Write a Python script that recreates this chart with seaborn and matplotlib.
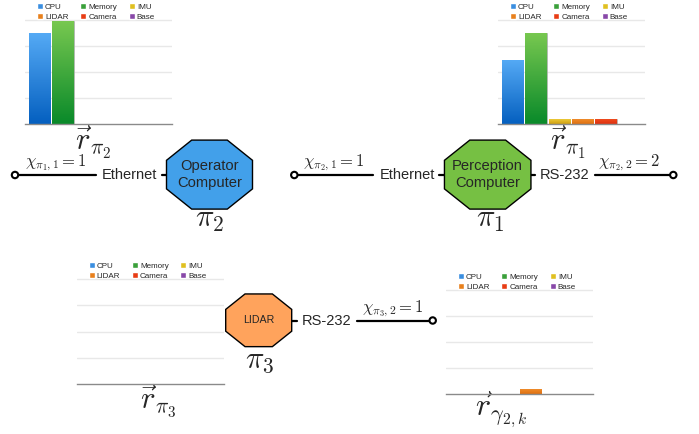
import numpy as np
import pandas as pd
import matplotlib.pyplot as plt
import seaborn as sns
from matplotlib.patches import Polygon, Patch, Circle
from matplotlib.colors import LinearSegmentedColormap

sns.set_style('white')
plt.rcParams['font.family'] = ['Liberation Sans', 'DejaVu Sans']
plt.rcParams['mathtext.fontset'] = 'cm'

# resource usage per component, in percent
categories = ['CPU', 'Memory', 'IMU', 'LIDAR', 'Camera', 'Base']
r_pi2 = [87.6, 99.0, 0, 0, 0, 0]
r_pi1 = [62.0, 87.6, 5.0, 5.0, 5.0, 0]
r_pi3 = [0, 0, 0, 0, 0, 0]
r_gamma = [0, 0, 0, 5.0, 0, 0]

legend_colors = {'CPU': '#3a8ee0', 'Memory': '#3aa03a', 'IMU': '#e0c020',
                 'LIDAR': '#e8801c', 'Camera': '#e83c14', 'Base': '#8848a8'}
# (bottom, top) of each bar gradient
grad_colors = {'CPU': ('#0560c0', '#55aaf5'), 'Memory': ('#0a8a2a', '#78c850'),
               'IMU': ('#d0a010', '#f0d040'), 'LIDAR': ('#e07010', '#f09030'),
               'Camera': ('#e03010', '#f05020'), 'Base': ('#6a2a90', '#9a5ab8')}
legend_order = ['CPU', 'LIDAR', 'Memory', 'Camera', 'IMU', 'Base']

W, H = 699, 434
fig = plt.figure(figsize=(W / 100, H / 100), dpi=100)

# diagram layer in pixel coordinates
ax0 = fig.add_axes([0, 0, 1, 1])
ax0.set_xlim(0, W)
ax0.set_ylim(H, 0)
ax0.axis('off')


def bar_chart(vals, left, right, top, base):
    ax = fig.add_axes([left / W, 1 - base / H, (right - left) / W, (base - top) / H])
    df = pd.DataFrame({'part': categories, 'use': vals})
    sns.barplot(data=df, x='part', y='use', hue='part', palette=legend_colors,
                order=categories, hue_order=categories, width=0.92, legend=False,
                edgecolor='#b8b8b8', linewidth=0.5, ax=ax)
    slot = (right - left) / 6.3
    x0 = -0.46 - 4 / slot
    for p in list(ax.patches):
        h = p.get_height()
        if h <= 0:
            continue
        cat = categories[int(round(p.get_x() + p.get_width() / 2))]
        cmap = LinearSegmentedColormap.from_list(cat, grad_colors[cat])
        im = ax.imshow(np.linspace(0, 1, 50).reshape(-1, 1), cmap=cmap, origin='lower',
                       aspect='auto', extent=[p.get_x(), p.get_x() + p.get_width(), 0, h],
                       zorder=p.get_zorder() + 0.1)
        im.set_clip_path(p)
    ax.set_xlim(x0, x0 + (right - left) / slot)
    ax.set_ylim(0, 100.5)
    ax.set_yticks([25, 50, 75, 100])
    ax.set_xticks([])
    ax.tick_params(length=0, labelleft=False)
    ax.grid(axis='y', color='#e8e8e8', lw=1)
    ax.set_axisbelow(True)
    ax.set_xlabel('')
    ax.set_ylabel('')
    for s in ['top', 'left', 'right']:
        ax.spines[s].set_visible(False)
    ax.spines['bottom'].set_color('#8a8a8a')
    ax.spines['bottom'].set_linewidth(1)
    ax.set_facecolor('none')
    handles = [Patch(facecolor=legend_colors[c], label=c) for c in legend_order]
    ax.legend(handles=handles, ncol=3, loc='lower left', bbox_to_anchor=(12 / (right - left), 0.985),
              frameon=False, fontsize=5.8, handlelength=0.75, handleheight=0.75,
              handletextpad=0.25, columnspacing=1.45, labelspacing=0.3, borderpad=0,
              borderaxespad=0)
    return ax


bar_chart(r_pi2, 25, 172, 19.3, 124.3)
bar_chart(r_pi1, 498, 645, 19.3, 124.3)
bar_chart(r_pi3, 76.7, 224, 278.3, 384.3)
bar_chart(r_gamma, 446, 592.7, 289.3, 394.3)


def octagon(cx, cy, w, h, color, lines, size):
    s = 0.414
    pts = [(s, -1), (1, -s), (1, s), (s, 1), (-s, 1), (-1, s), (-1, -s), (-s, -1)]
    pts = [(cx + x * w / 2, cy + y * h / 2) for x, y in pts]
    ax0.add_patch(Polygon(pts, closed=True, facecolor=color, edgecolor='black', lw=1, zorder=3))
    ax0.text(cx, cy, lines, ha='center', va='center', fontsize=size,
             linespacing=1.25, zorder=4)


def link(x_circle, x_end, y, label, side):
    ax0.plot([x_circle, x_end], [y, y], color='black', lw=1.6, zorder=2)
    ax0.add_patch(Circle((x_circle, y), 3.2, facecolor='white', edgecolor='black', lw=1.5, zorder=3))
    ax0.text((x_circle + x_end) / 2 + side, y - 1.5, label, ha='center', va='bottom',
             fontsize=12, zorder=4)


def dash(x1, x2, y):
    ax0.plot([x1, x2], [y, y], color='black', lw=1.6, zorder=2)


# operator computer
octagon(209.5, 174.6, 86, 69, '#42a0ea', 'Operator\nComputer', 10.6)
ax0.text(210, 219, r'$\pi_2$', ha='center', va='center', fontsize=22)
ax0.text(93, 142, r'$\vec{r}_{\pi_2}$', ha='center', va='center', fontsize=22)
link(15, 96, 175, r'$\chi_{\pi_1,1}=1$', 0)
ax0.text(129, 175, 'Ethernet', ha='center', va='center', fontsize=10.5)
dash(162, 167, 175)

# perception computer
octagon(487.7, 174.6, 86.5, 69, '#76c043', 'Perception\nComputer', 10.6)
ax0.text(490.5, 219, r'$\pi_1$', ha='center', va='center', fontsize=22)
ax0.text(568, 142, r'$\vec{r}_{\pi_1}$', ha='center', va='center', fontsize=22)
link(294.3, 373.3, 175, r'$\chi_{\pi_2,1}=1$', 0)
ax0.text(407.5, 175, 'Ethernet', ha='center', va='center', fontsize=10.5)
dash(439.3, 445, 175)
dash(530.5, 535, 175)
ax0.text(565, 175, 'RS-232', ha='center', va='center', fontsize=10.5)
link(673.3, 595, 175, r'$\chi_{\pi_2,2}=2$', -5)

# lidar
octagon(258.7, 320.3, 66, 52.7, '#ffa35c', 'LIDAR', 7.7)
ax0.text(260, 360, r'$\pi_3$', ha='center', va='center', fontsize=22)
ax0.text(158, 401, r'$\vec{r}_{\pi_3}$', ha='center', va='center', fontsize=22)
dash(291.5, 296.7, 320.5)
ax0.text(326.7, 321, 'RS-232', ha='center', va='center', fontsize=10.5)
link(432.7, 356.7, 320.5, r'$\chi_{\pi_3,2}=1$', -2)
ax0.text(501, 410, r'$\vec{r}_{\gamma_{2,k}}$', ha='center', va='center', fontsize=23)

fig.savefig('out.png', dpi=100)
